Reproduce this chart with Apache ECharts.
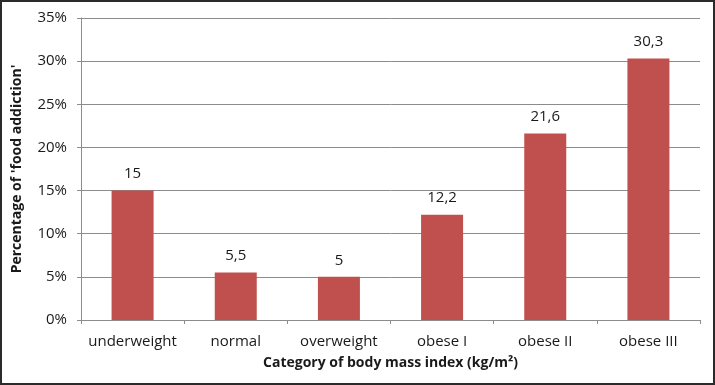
<!DOCTYPE html>
<html>
<head>
<meta charset="utf-8">
<script src="https://cdn.jsdelivr.net/npm/echarts@6/dist/echarts.min.js"></script>
<style>
  html, body { margin: 0; padding: 0; background: #fff; }
  #chart { width: 711px; height: 381px; border: 2px solid #2b2b2b; }
</style>
</head>
<body>
<div id="chart"></div>
<script>
var categories = ['underweight', 'normal', 'overweight', 'obese I', 'obese II', 'obese III'];
var percentages = [15, 5.5, 5, 12.2, 21.6, 30.3];
var yTicks = { min: 0, max: 35, interval: 5 };

var chart = echarts.init(document.getElementById('chart'));
var font = 'Open Sans';
var option = {
    animation: false,
    grid: { left: 77, right: 13, top: 16, bottom: 63 },
    xAxis: {
        type: 'category',
        data: categories,
        name: 'Category of body mass index (kg/m²)',
        nameLocation: 'middle',
        nameGap: 36,
        nameTextStyle: { fontFamily: font, fontWeight: 'bold', fontSize: 14, color: '#1a1a1a' },
        axisLine: { lineStyle: { color: '#8c8c8c', width: 1 } },
        axisTick: { show: true, length: 4, lineStyle: { color: '#8c8c8c' } },
        axisLabel: { interval: 0, fontFamily: font, fontSize: 15, color: '#1a1a1a', margin: 14 }
    },
    yAxis: {
        type: 'value',
        min: yTicks.min,
        max: yTicks.max,
        interval: yTicks.interval,
        name: "Percentage of 'food addiction'",
        nameLocation: 'middle',
        nameGap: 57,
        nameTextStyle: { fontFamily: font, fontWeight: 'bold', fontSize: 14, color: '#1a1a1a' },
        axisLine: { show: true, lineStyle: { color: '#8c8c8c', width: 1 } },
        axisTick: { show: true, length: 4, lineStyle: { color: '#8c8c8c' } },
        axisLabel: { fontFamily: font, fontSize: 15, color: '#1a1a1a', margin: 14, formatter: '{value}%' },
        splitLine: { lineStyle: { color: '#8c8c8c', width: 1 } }
    },
    series: [{
        type: 'bar',
        data: percentages,
        barWidth: 42,
        itemStyle: { color: '#c0504d' },
        label: {
            show: true,
            position: 'top',
            distance: 9,
            fontFamily: font,
            fontSize: 15,
            color: '#1a1a1a',
            formatter: function (p) { return String(p.value).replace('.', ','); }
        }
    }]
};
chart.setOption(option);
</script>
</body>
</html>
